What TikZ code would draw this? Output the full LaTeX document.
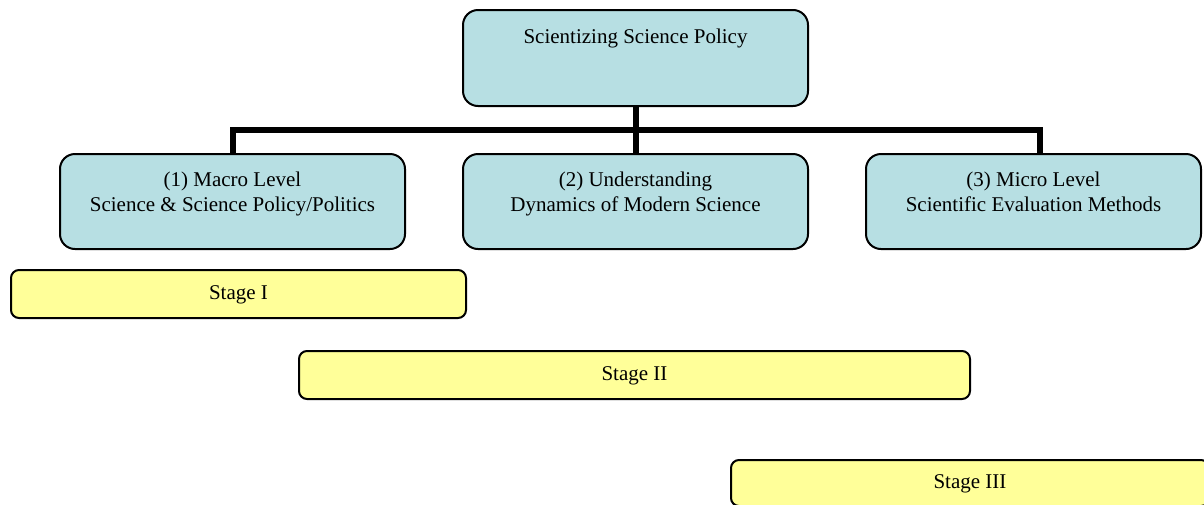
\documentclass[tikz,border=0pt]{standalone}
\usepackage{fontspec}
\setmainfont{Liberation Serif}
\begin{document}
\begin{tikzpicture}[x=1pt,y=-1pt,
  bluebox/.style={draw=black,line width=2pt,fill=blueF,rounded corners=15pt,inner sep=0pt},
  stagebox/.style={draw=black,line width=2pt,fill=yellowF,rounded corners=8pt,inner sep=0pt,font=\fontsize{21}{25}\selectfont},
  boxtext/.style={anchor=north,align=center,inner sep=0pt,font=\fontsize{21}{25}\selectfont},
  conn/.style={line width=6pt}]
\definecolor{blueF}{HTML}{B7DFE3}
\definecolor{yellowF}{HTML}{FFFF99}
\useasboundingbox (0,0) rectangle (1204,504);
\clip (0,0) rectangle (1204,504);
% top box
\node[bluebox,minimum width=345pt,minimum height=96pt] (top) at (635.5,58) {};
\node[boxtext] (toptxt) at (635.5,29) {Scientizing Science Policy};
% level boxes
\node[bluebox,minimum width=345pt,minimum height=95pt] (b1) at (232.5,201.5) {};
\node[bluebox,minimum width=345pt,minimum height=95pt] (b2) at (635.5,201.5) {};
\node[bluebox,minimum width=335pt,minimum height=95pt] (b3) at (1033.5,201.5) {};
\node[boxtext] (t1) at (232.5,172) {(1) Macro Level\\Science \& Science Policy/Politics};
\node[boxtext] (t2) at (635.5,172) {(2) Understanding\\Dynamics of Modern Science};
\node[boxtext] (t3) at (1033.5,172) {(3) Micro Level\\Scientific Evaluation Methods};
% connectors
\coordinate (hl) at (233,130);
\coordinate (hr) at (1040,130);
\draw[conn] (top.south) -- (b2.north);
\draw[conn] (b1.north -| hl) -- (hl) -- (hr) -- (b3.north -| hr);
% stages
\node[stagebox,minimum width=455pt,minimum height=48pt,text depth=2pt] (s1) at (238.5,294) {Stage I};
\node[stagebox,minimum width=671pt,minimum height=48pt,text depth=2pt] (s2) at (634.5,375) {Stage II};
\node[stagebox,minimum width=478pt,minimum height=46pt,text depth=2pt] (s3) at (970,483) {Stage III};
\end{tikzpicture}
\end{document}
